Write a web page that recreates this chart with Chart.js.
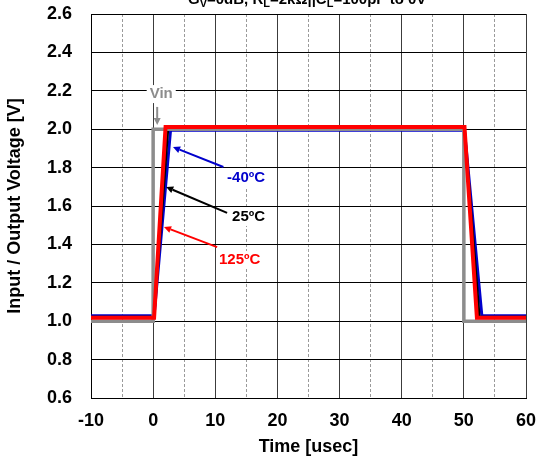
<!DOCTYPE html>
<html>
<head>
<meta charset="utf-8">
<script src="https://cdn.jsdelivr.net/npm/chart.js@4.4.1/dist/chart.umd.min.js"></script>
<style>
  html, body { margin: 0; padding: 0; background: #fff; }
  #wrap { width: 536px; height: 463px; position: relative; }
</style>
</head>
<body>
<div id="wrap"><canvas id="c" width="536" height="463"></canvas></div>
<script>
// Input pulse (Vin)
const timeVin = [-10, 0, 0, 50, 50, 60];
const voltVin = [1.0, 1.0, 2.0, 2.0, 1.0, 1.0];

// Output at -40ºC
const timeM40 = [-10, 0.15, 2.8, 50.1, 52.9, 60];
const voltM40 = [1.028, 1.028, 1.995, 1.995, 1.028, 1.028];

// Output at 25ºC
const time25 = [-10, 0.15, 2.4, 50.1, 52.5, 60];
const volt25 = [1.022, 1.022, 2.005, 2.005, 1.022, 1.022];

// Output at 125ºC
const time125 = [-10, 0.15, 2.0, 50.1, 52.1, 60];
const volt125 = [1.018, 1.018, 2.012, 2.012, 1.018, 1.018];

// Axis ticks
const xTicks = [-10, 0, 10, 20, 30, 40, 50, 60];
const yTicks = [0.6, 0.8, 1.0, 1.2, 1.4, 1.6, 1.8, 2.0, 2.2, 2.4, 2.6];

const FONT = "'Liberation Sans', Arial, sans-serif";

const toPoints = (xs, ys) => xs.map((x, i) => ({ x, y: ys[i] }));

// Callout labels pointing at each trace: [text, color, textX, textY, tailX, tailY, headX, headY, align]
const callouts = [
  ['Vin',   '#8c8c8c', 1.3, 2.183, 0.65, 2.116, 0.65, 2.022, 'center'],
  ['-40ºC', '#0000cc', 11.9, 1.746, 11.3, 1.803, 3.2, 1.907, 'left'],
  ['25ºC',  '#000000', 12.7, 1.543, 11.9, 1.564, 2.1, 1.699, 'left'],
  ['125ºC', '#ff0000', 10.6, 1.319, 10.3, 1.386, 1.75, 1.491, 'left']
];

const calloutPlugin = {
  id: 'callouts',
  afterDatasetsDraw(chart) {
    const { ctx, scales: { x, y } } = chart;
    ctx.save();
    callouts.forEach(([txt, col, tx, ty, ax0, ay0, ax1, ay1, align]) => {
      ctx.font = 'bold 15px ' + FONT;
      ctx.textAlign = align;
      ctx.textBaseline = 'middle';
      const tpx = x.getPixelForValue(tx), tpy = y.getPixelForValue(ty);
      const w = ctx.measureText(txt).width;
      const left = align === 'center' ? tpx - w / 2 : tpx;
      ctx.fillStyle = '#fff';
      ctx.fillRect(left - 3, tpy - 9, w + 6, 18);

      const px0 = x.getPixelForValue(ax0), py0 = y.getPixelForValue(ay0);
      const px1 = x.getPixelForValue(ax1), py1 = y.getPixelForValue(ay1);
      const ang = Math.atan2(py1 - py0, px1 - px0);
      const hl = 7, hw = 3.5;
      const bx = px1 - hl * Math.cos(ang), by = py1 - hl * Math.sin(ang);
      ctx.strokeStyle = col;
      ctx.fillStyle = col;
      ctx.lineWidth = 2;
      ctx.beginPath();
      ctx.moveTo(px0, py0);
      ctx.lineTo(bx, by);
      ctx.stroke();
      ctx.beginPath();
      ctx.moveTo(px1, py1);
      ctx.lineTo(bx + hw * Math.sin(ang), by - hw * Math.cos(ang));
      ctx.lineTo(bx - hw * Math.sin(ang), by + hw * Math.cos(ang));
      ctx.closePath();
      ctx.fill();

      ctx.fillText(txt, tpx, tpy);
    });
    ctx.restore();
  }
};

// Test-condition heading across the top edge
const headingParts = [['G', 0], ['V', 1], ['=0dB, R', 0], ['L', 1], ['=2kΩ||C', 0], ['L', 1], ['=100pF to 0V', 0]];
const headingPlugin = {
  id: 'heading',
  afterDraw(chart) {
    const { ctx } = chart;
    ctx.save();
    ctx.fillStyle = '#000';
    ctx.textBaseline = 'alphabetic';
    ctx.textAlign = 'left';
    let px = 188;
    headingParts.forEach(([s, sub]) => {
      ctx.font = (sub ? 'bold 11px ' : 'bold 15px ') + FONT;
      ctx.fillText(s, px, sub ? 7 : 4);
      px += ctx.measureText(s).width;
    });
    ctx.restore();
  }
};

const line = (label, xs, ys, color, width, order) => ({
  label, data: toPoints(xs, ys), borderColor: color, backgroundColor: color,
  borderWidth: width, pointRadius: 0, tension: 0, fill: false, order
});

new Chart(document.getElementById('c'), {
  type: 'line',
  data: {
    datasets: [
      line('125ºC', time125, volt125, '#ff0000', 4, 0),
      line('Vin', timeVin, voltVin, '#8c8c8c', 3.5, 1),
      line('25ºC', time25, volt25, '#000000', 2.5, 2),
      line('-40ºC', timeM40, voltM40, '#0000cc', 3, 3)
    ]
  },
  options: {
    responsive: false,
    animation: false,
    events: [],
    layout: { padding: { top: 14, right: 10, left: 0, bottom: 0 } },
    plugins: { legend: { display: false }, tooltip: { enabled: false }, title: { display: false } },
    scales: {
      x: {
        type: 'linear', min: -10, max: 60,
        afterBuildTicks: (s) => { s.ticks = xTicks.map(v => ({ value: v })); },
        afterFit: (s) => { s.height = 65; s.paddingLeft = 0; s.paddingRight = 0; },
        grid: { color: (c) => (c.tick && c.tick.value === -10 ? '#000' : '#3c3c3c'), lineWidth: 1, drawTicks: false },
        border: { display: true, color: '#000', width: 1 },
        ticks: { color: '#000', padding: 12, maxRotation: 0, font: { family: FONT, size: 18, weight: 'bold' } },
        title: { display: true, text: 'Time [usec]', color: '#000', padding: { top: 0, bottom: 5 }, font: { family: FONT, size: 18, weight: 'bold' } }
      },
      xMinor: {
        type: 'linear', position: 'bottom', min: -10, max: 60,
        afterBuildTicks: (s) => { s.ticks = [-5, 5, 15, 25, 35, 45, 55].map(v => ({ value: v })); },
        afterFit: (s) => { s.height = 0; s.paddingLeft = 0; s.paddingRight = 0; },
        grid: { color: '#9a9a9a', lineWidth: 1, drawTicks: false },
        border: { display: false, dash: [3, 2] },
        ticks: { display: false }
      },
      y: {
        type: 'linear', min: 0.6, max: 2.6,
        afterBuildTicks: (s) => { s.ticks = yTicks.map(v => ({ value: v })); },
        afterFit: (s) => { s.width = 91; s.paddingTop = 0; s.paddingBottom = 0; },
        grid: { color: '#000', lineWidth: 1, drawTicks: false },
        border: { display: true, color: '#000', width: 1 },
        ticks: { color: '#000', padding: 19, font: { family: FONT, size: 18, weight: 'bold' }, callback: (v) => Number(v).toFixed(1) },
        title: { display: true, text: 'Input / Output Voltage [V]', color: '#000', padding: { top: 4, bottom: 0 }, font: { family: FONT, size: 18, weight: 'bold' } }
      }
    }
  },
  plugins: [calloutPlugin, headingPlugin]
});
</script>
</body>
</html>
